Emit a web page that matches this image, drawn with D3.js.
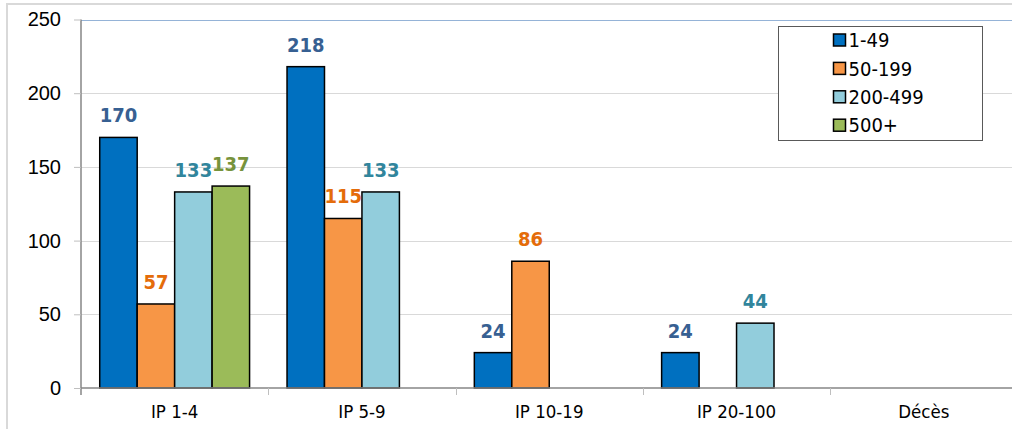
<!DOCTYPE html>
<html>
<head>
<meta charset="utf-8">
<script src="https://cdn.jsdelivr.net/npm/d3@7"></script>
<style>
	body { margin: 0; background: #fff; }
	svg { display: block; font-family: "DejaVu Sans Condensed", "DejaVu Sans", Verdana, sans-serif; }
</style>
</head>
<body>
<svg id="chart"></svg>
<script>
// categories and series
var categories = ["IP 1-4", "IP 5-9", "IP 10-19", "IP 20-100", "Décès"]
var seriesNames = ["1-49", "50-199", "200-499", "500+"]

// values per series (null = no bar)
var values1_49 = [170, 218, 24, 24, null]
var values50_199 = [57, 115, 86, null, null]
var values200_499 = [133, 133, null, 44, null]
var values500 = [137, null, null, null, null]

var yTicks = [0, 50, 100, 150, 200, 250]

var allValues = [values1_49, values50_199, values200_499, values500]
var fills = ["#0070C0", "#F79646", "#92CDDC", "#9BBB59"]
var labelColors = ["#376092", "#E46C0A", "#31859C", "#77933C"]

buildBars()

function buildBars() {
	var dim = {
		width: 1012,
		height: 429,
		left: 81,
		right: 1017.5,
		top: 19.5,
		bottom: 388
	}

	var svg = d3.select('#chart')
		.attr('width', dim.width)
		.attr('height', dim.height)

	// outer chart border
	svg.append('rect')
		.attr('x', 7).attr('y', 4)
		.attr('width', 1100).attr('height', 500)
		.attr('fill', 'none')
		.attr('stroke', '#D9D9D9')
		.attr('stroke-width', 2)

	var x = d3.scaleBand()
		.domain(categories)
		.range([dim.left, dim.right])

	var xInner = d3.scaleBand()
		.domain(seriesNames)
		.range([0, x.bandwidth()])
		.paddingInner(0)
		.paddingOuter(0.5)

	var y = d3.scaleLinear()
		.domain([0, 250])
		.range([dim.bottom, dim.top])

	// gridlines
	svg.append('g')
		.selectAll('line')
		.data(yTicks.filter(d => d > 0))
		.enter()
		.append('line')
			.attr('x1', dim.left)
			.attr('x2', dim.width)
			.attr('y1', d => Math.round(y(d)) + 0.5)
			.attr('y2', d => Math.round(y(d)) + 0.5)
			.attr('stroke', d => d == 250 ? '#95B3D7' : '#D9D9D9')
			.attr('stroke-width', 1)

	// y axis
	var yAxis = svg.append('g')
		.attr('transform', 'translate(' + dim.left + ',0)')
		.call(d3.axisLeft(y).tickValues(yTicks).tickSize(7).tickPadding(13))
	yAxis.select('.domain').attr('stroke', '#868686').attr('stroke-width', 1.5)
		.attr('d', 'M0,' + dim.top + 'V' + (dim.bottom + 7))
	yAxis.selectAll('.tick line').attr('stroke', '#BFBFBF')
	yAxis.selectAll('.tick text')
		.attr('font-size', 20)
		.attr('fill', '#000')
		.attr('font-family', null)

	// bars
	var rows = []
	allValues.forEach((vals, si) => {
		vals.forEach((v, ci) => {
			if (v != null) rows.push({ cat: categories[ci], s: si, v: v })
		})
	})

	svg.append('g')
		.selectAll('rect')
		.data(rows)
		.enter()
		.append('rect')
			.attr('x', d => x(d.cat) + xInner(seriesNames[d.s]))
			.attr('y', d => y(d.v))
			.attr('width', xInner.bandwidth())
			.attr('height', d => y(0) - y(d.v))
			.attr('fill', d => fills[d.s])
			.attr('stroke', '#000')
			.attr('stroke-width', 1.5)

	// x axis
	var xAxis = svg.append('g')
		.attr('transform', 'translate(0,' + dim.bottom + ')')
	xAxis.append('line')
		.attr('x1', dim.left).attr('x2', dim.width)
		.attr('y1', 0).attr('y2', 0)
		.attr('stroke', '#868686')
		.attr('stroke-width', 1.5)
	xAxis.selectAll('.cat-tick')
		.data(categories.slice(1))
		.enter()
		.append('line')
			.attr('class', 'cat-tick')
			.attr('x1', d => Math.round(x(d)) + 0.5)
			.attr('x2', d => Math.round(x(d)) + 0.5)
			.attr('y1', 0).attr('y2', 7)
			.attr('stroke', '#BFBFBF')
	xAxis.selectAll('text')
		.data(categories)
		.enter()
		.append('text')
			.attr('x', d => x(d) + x.bandwidth() / 2)
			.attr('y', 30)
			.attr('text-anchor', 'middle')
			.attr('font-size', 18.5)
			.attr('fill', '#000')
			.text(d => d)

	// value labels
	svg.append('g')
		.selectAll('text')
		.data(rows)
		.enter()
		.append('text')
			.attr('x', d => x(d.cat) + xInner(seriesNames[d.s]) + xInner.bandwidth() / 2)
			.attr('y', d => y(d.v) - 15)
			.attr('text-anchor', 'middle')
			.attr('font-size', 20)
			.attr('font-weight', 'bold')
			.attr('fill', d => labelColors[d.s])
			.text(d => d.v)

	// legend
	var legend = svg.append('g')
		.attr('transform', 'translate(778.5,26.5)')
	legend.append('rect')
		.attr('width', 204).attr('height', 114)
		.attr('fill', '#fff')
		.attr('stroke', '#595959')
		.attr('stroke-width', 1)
	var items = legend.selectAll('.item')
		.data(seriesNames)
		.enter()
		.append('g')
			.attr('transform', (d, i) => 'translate(55,' + (13.5 + i * 28.4) + ')')
	items.append('rect')
		.attr('x', 0).attr('y', -6)
		.attr('width', 12).attr('height', 12)
		.attr('fill', (d, i) => fills[i])
		.attr('stroke', '#000')
		.attr('stroke-width', 1.5)
	items.append('text')
		.attr('x', 15)
		.attr('y', 0)
		.attr('dy', '0.36em')
		.attr('font-size', 20)
		.attr('fill', '#000')
		.text(d => d)
}
</script>
</body>
</html>
